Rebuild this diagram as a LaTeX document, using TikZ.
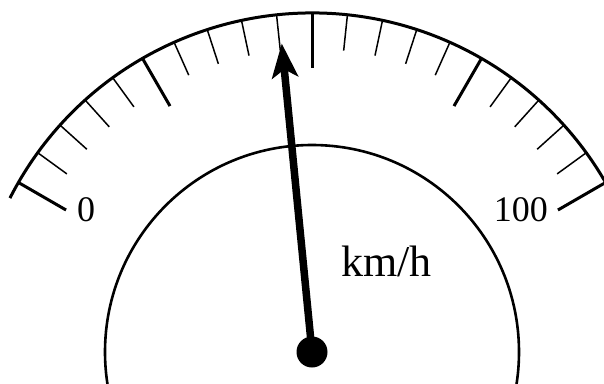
\documentclass[tikz,border=0pt]{standalone}
\usepackage{fontspec}
\setmainfont{Liberation Serif}
\usetikzlibrary{arrows.meta}

\begin{document}
\begin{tikzpicture}[x=1pt,y=1pt,
  minortick/.style={line width=1.5pt},
  majortick/.style={line width=3pt},
  needle/.style={line width=7.5pt, -{Stealth[length=34pt,width=26pt,inset=8pt]}},
  scalelabel/.style={inner sep=0pt, font=\fontsize{36}{40}\selectfont}]
\useasboundingbox (-312,-31) rectangle (292,352);
\clip (-312,-31) rectangle (292,352);
\coordinate (pivot) at (0,0);
\coordinate (tip) at (95.6:310);
\draw[line width=2.6pt] (pivot) circle (207);
\draw[line width=3pt] (153:339) arc (153:27:339);
\foreach \ang in {150,144,...,30}
  \draw[minortick] (\ang:339) -- (\ang:303);
\foreach \ang in {150,120,...,30}
  \draw[majortick] (\ang:339) -- (\ang:284);
\node[scalelabel, anchor=base west] (zero) at (-235,131) {0};
\node[scalelabel, anchor=base east] (hundred) at (236,131) {100};
\node[inner sep=0pt, anchor=base west, font=\fontsize{44}{48}\selectfont] (unit) at (29,76) {km/h};
\draw[needle] (pivot) -- (tip);
\node[circle, fill, minimum size=31pt, inner sep=0pt] (hub) at (pivot) {};
\end{tikzpicture}
\end{document}
